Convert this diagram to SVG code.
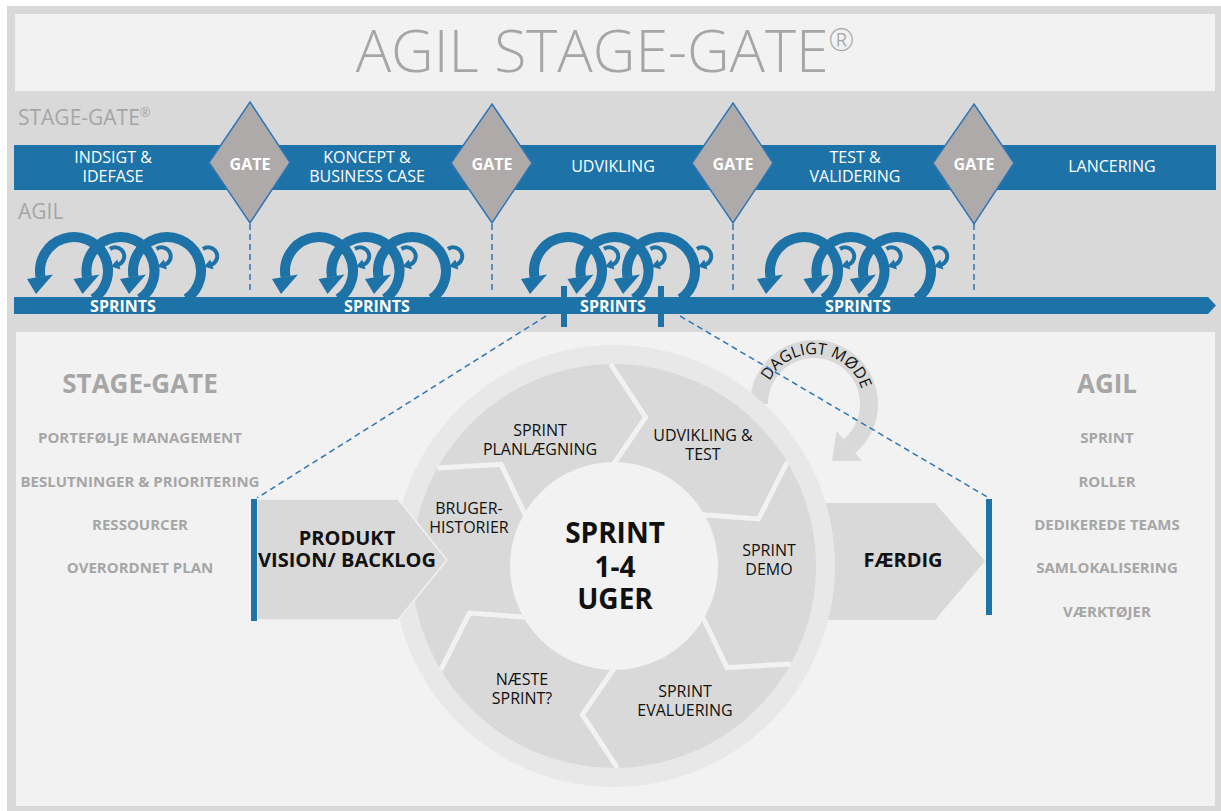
<svg xmlns="http://www.w3.org/2000/svg" xmlns:xlink="http://www.w3.org/1999/xlink" width="1221" height="811" viewBox="0 0 1221 811">
<style>
.f{font-family:"Open Sans","Noto Sans","DejaVu Sans",sans-serif}
.gl{fill:#a6a6a6;font-weight:700;font-size:15px;text-anchor:middle}
.gh{fill:#a6a6a6;font-weight:700;font-size:26px;text-anchor:middle}
.wt{fill:#ffffff;font-size:16px;text-anchor:middle}
.gt{fill:#ffffff;font-size:16px;font-weight:700;text-anchor:middle}
.sp{fill:#ffffff;font-size:16px;font-weight:700;text-anchor:middle}
.bk{fill:#111111;font-size:16px;text-anchor:middle}
.bb{fill:#111111;font-weight:700;text-anchor:middle}
.blue{fill:#1d73a8}
.gate{fill:#aeaaaa;stroke:#2e75b6;stroke-width:1.5}
.dash{stroke:#2e75b6;stroke-width:1.5;stroke-dasharray:6 4;fill:none}
.ring{fill:none;stroke:#1d73a8;stroke-width:10}
.curl{fill:none;stroke:#1d73a8;stroke-width:4}
.gap{fill:none;stroke:#f2f2f2;stroke-width:5;stroke-linejoin:miter}
</style>
<defs>
<g id="ring">
<path class="ring" d="M19.5,298.9 A34,34 0 1 0 -33.5,276.9"/>
<polygon class="blue" points="-47,279 -21,274.5 -38,294"/>
<path class="curl" d="M36,249 A9,9 0 1 1 44.3,264.8"/>
<polygon class="blue" points="46.5,269.5 43.3,259.5 37,266.5"/>
</g>
<g id="coil">
<use xlink:href="#ring" x="74"/>
<use xlink:href="#ring" x="120.5"/>
<use xlink:href="#ring" x="167"/>
</g>
</defs>

<rect x="0" y="0" width="1221" height="811" fill="#ffffff"/>
<rect x="7" y="6" width="1214" height="805" fill="#d9d9d9"/>
<rect x="15" y="14" width="1200" height="77" fill="#f2f2f2"/>
<text class="f" x="605" y="72" text-anchor="middle" font-size="59" font-weight="300" fill="#a6a6a6">AGIL STAGE-GATE<tspan font-size="31" dy="-21">®</tspan></text>

<text class="f" x="18" y="125" font-size="21" fill="#a6a6a6">STAGE-GATE<tspan font-size="13" dy="-8">®</tspan></text>
<text class="f" x="18" y="219" font-size="21" fill="#a6a6a6">AGIL</text>

<rect class="blue" x="14" y="145" width="1202" height="45"/>

<g id="stages" class="f">
<text class="wt" x="113" y="163">INDSIGT &amp;<tspan x="113" dy="19">IDEFASE</tspan></text>
<text class="wt" x="367" y="163">KONCEPT &amp;<tspan x="367" dy="19">BUSINESS CASE</tspan></text>
<text class="wt" x="613" y="172">UDVIKLING</text>
<text class="wt" x="855" y="163">TEST &amp;<tspan x="855" dy="19">VALIDERING</tspan></text>
<text class="wt" x="1112" y="172">LANCERING</text>
</g>

<g id="connectors">
<line class="dash" x1="250" y1="224" x2="250" y2="293" stroke-dasharray="5 4"/>
<line class="dash" x1="492" y1="224" x2="492" y2="293" stroke-dasharray="5 4"/>
<line class="dash" x1="733" y1="224" x2="733" y2="293" stroke-dasharray="5 4"/>
<line class="dash" x1="974" y1="224" x2="974" y2="293" stroke-dasharray="5 4"/>
</g>

<g id="gate1"><polygon class="gate" points="250,102 290,162.5 250,223 209,162.5"/><text class="f gt" x="250" y="170">GATE</text></g>
<g id="gate2"><polygon class="gate" points="492,104 532,163 492,223 451,163"/><text class="f gt" x="492" y="170">GATE</text></g>
<g id="gate3"><polygon class="gate" points="733,103 773,163 733,223 692,163"/><text class="f gt" x="733" y="170">GATE</text></g>
<g id="gate4"><polygon class="gate" points="974,104 1014,163 974,224 933,163"/><text class="f gt" x="974" y="170">GATE</text></g>

<g id="sprints1"><use xlink:href="#coil"/></g>
<g id="sprints2"><use xlink:href="#coil" x="245"/></g>
<g id="sprints3"><use xlink:href="#coil" x="494"/></g>
<g id="sprints4"><use xlink:href="#coil" x="730"/></g>

<g id="sprintbar">
<polygon class="blue" points="14,297 1208,297 1216,305.5 1208,314 14,314"/>
<text class="f sp" x="123" y="312">SPRINTS</text>
<text class="f sp" x="377" y="312">SPRINTS</text>
<text class="f sp" x="613" y="312">SPRINTS</text>
<text class="f sp" x="858" y="312">SPRINTS</text>
<rect class="blue" x="561" y="286" width="6" height="41"/>
<rect class="blue" x="658" y="286" width="6" height="41"/>
</g>

<rect x="16" y="332" width="1199" height="474" fill="#f2f2f2"/>

<g id="left-list" class="f">
<text class="gh" x="140" y="393">STAGE-GATE</text>
<text class="gl" x="140" y="443">PORTEFØLJE MANAGEMENT</text>
<text class="gl" x="140" y="487">BESLUTNINGER &amp; PRIORITERING</text>
<text class="gl" x="140" y="530">RESSOURCER</text>
<text class="gl" x="140" y="573">OVERORDNET PLAN</text>
</g>
<g id="right-list" class="f">
<text class="gh" x="1107" y="393">AGIL</text>
<text class="gl" x="1107" y="443">SPRINT</text>
<text class="gl" x="1107" y="487">ROLLER</text>
<text class="gl" x="1107" y="530">DEDIKEREDE TEAMS</text>
<text class="gl" x="1107" y="573">SAMLOKALISERING</text>
<text class="gl" x="1107" y="617">VÆRKTØJER</text>
</g>

<g id="faerdig">
<polygon points="800,503 935,503 985,561 935,620 800,620" fill="#d9d9d9"/>
<text class="f bb" x="903" y="567" font-size="20">FÆRDIG</text>
<rect class="blue" x="986" y="499" width="6" height="116"/>
</g>

<g id="daglig-mode">
<path d="M759,404 A55,55 0 1 1 849.4,446.1" fill="none" stroke="#d9d9d9" stroke-width="18"/>
<polygon points="836.5,431 862,461 832,461" fill="#d9d9d9"/>
<path id="tp" d="M767,421.1 A50,50 0 1 1 857.3,429" fill="none"/>
<text class="f" font-size="16" fill="#111111"><textPath xlink:href="#tp" startOffset="50%" text-anchor="middle">DAGLIGT MØDE</textPath></text>
</g>

<g id="connectors-zoom">
<line class="dash" x1="546" y1="316" x2="257" y2="498"/>
<line class="dash" x1="680" y1="316" x2="989" y2="498"/>
</g>

<g id="cycle">
<circle cx="614" cy="566" r="221" fill="#e8e8e8"/>
<circle cx="614" cy="566" r="202" fill="#d9d9d9"/>
<polyline class="gap" points="437.3,468.1 501,464.3 526.5,517.5"/>
<polyline class="gap" points="610.5,364 645.6,417.3 612.3,466"/>
<polyline class="gap" points="787.2,462 758.6,519 699.7,514.5"/>
<polyline class="gap" points="790.7,663.9 727,667.7 701.5,614.5"/>
<polyline class="gap" points="617.5,768 582.4,714.7 615.7,666"/>
<polyline class="gap" points="440.8,670 469.4,613 528.3,617.5"/>
<circle cx="614" cy="566" r="104" fill="#f2f2f2"/>
<text class="f bb" x="615" y="543" font-size="28">SPRINT<tspan x="615" dy="34">1-4</tspan><tspan x="615" dy="32">UGER</tspan></text>
</g>
<g id="seg-planlaegning" class="f"><text class="bk" x="540" y="436">SPRINT<tspan x="540" dy="19">PLANLÆGNING</tspan></text></g>
<g id="seg-udvikling" class="f"><text class="bk" x="703" y="441">UDVIKLING &amp;<tspan x="703" dy="19">TEST</tspan></text></g>
<g id="seg-demo" class="f"><text class="bk" x="769" y="556">SPRINT<tspan x="769" dy="19">DEMO</tspan></text></g>
<g id="seg-evaluering" class="f"><text class="bk" x="685" y="697">SPRINT<tspan x="685" dy="19">EVALUERING</tspan></text></g>
<g id="seg-naeste" class="f"><text class="bk" x="522" y="685">NÆSTE<tspan x="522" dy="19">SPRINT?</tspan></text></g>
<g id="seg-bruger" class="f"><text class="bk" x="469" y="514">BRUGER-<tspan x="469" dy="19">HISTORIER</tspan></text></g>

<g id="produkt">
<polygon points="257,499 398,499 447,560 398,620 257,620" fill="#d9d9d9" stroke="#f2f2f2" stroke-width="1.5"/>
<rect class="blue" x="251" y="499" width="6" height="122"/>
<text class="f bb" x="347" y="545" font-size="20">PRODUKT<tspan x="347" dy="22">VISION/ BACKLOG</tspan></text>
</g>
</svg>
